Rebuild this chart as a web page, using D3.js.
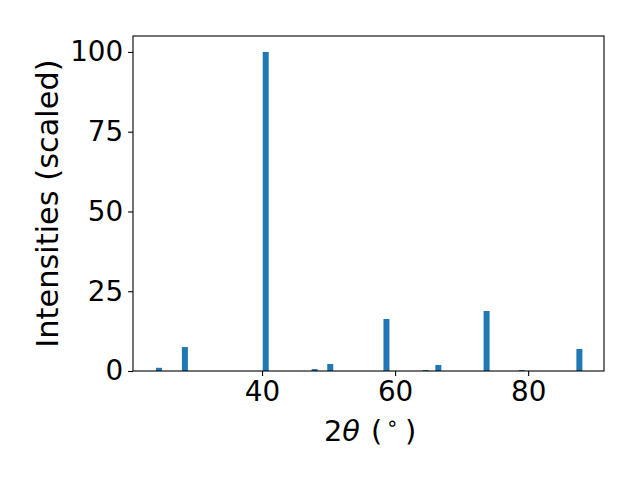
<!DOCTYPE html>
<html><head><meta charset="utf-8">
<script src="https://cdn.jsdelivr.net/npm/d3@7"></script>
<style>body{margin:0;background:#fff}svg{display:block}text{font-family:"DejaVu Sans",sans-serif}</style>
</head><body>
<svg id="c" width="640" height="480"></svg>
<script>
const twoTheta = [24.5, 28.4, 40.55, 47.9, 50.25, 58.7, 64.6, 66.5, 73.75, 79.05, 87.7];
const intensity = [1.0, 7.5, 100, 0.6, 2.2, 16.3, 0.3, 1.9, 18.8, 0.3, 6.9];
const xTicks = [40, 60, 80];
const yTicks = [0, 25, 50, 75, 100];
const barWidth = 0.9;

const svg = d3.select("#c");
const L = 133, R = 604, T = 36, B = 371;
const x = d3.scaleLinear().domain([20.6, 91.4]).range([L, R]);
const y = d3.scaleLinear().domain([0, 105]).range([B, T]);

svg.append("g").selectAll("rect").data(twoTheta).join("rect")
  .attr("x", (d) => x(d - barWidth / 2))
  .attr("width", (d) => x(d + barWidth / 2) - x(d - barWidth / 2))
  .attr("y", (d, i) => y(intensity[i]))
  .attr("height", (d, i) => y(0) - y(intensity[i]))
  .attr("fill", "#1f77b4");

const fs = 27.8;
const xa = svg.append("g").attr("transform", `translate(0,${B})`)
  .call(d3.axisBottom(x).tickValues(xTicks).tickFormat(d3.format("d")).tickSizeOuter(0).tickSize(4.9).tickPadding(4.9));
const ya = svg.append("g").attr("transform", `translate(${L},0)`)
  .call(d3.axisLeft(y).tickValues(yTicks).tickFormat(d3.format("d")).tickSizeOuter(0).tickSize(4.9).tickPadding(4.9));
[xa, ya].forEach(a => {
  a.select(".domain").remove();
  a.selectAll("line").attr("stroke", "#000").attr("stroke-width", 1.1);
  a.selectAll("text").attr("font-size", fs).attr("fill", "#000").attr("font-family", "DejaVu Sans");
});

svg.append("rect").attr("x", L).attr("y", T).attr("width", R - L).attr("height", B - T)
  .attr("fill", "none").attr("stroke", "#000").attr("stroke-width", 1.1);

const xfs = 28.8;
const xl = svg.append("text").attr("y", 441)
  .attr("font-size", xfs).attr("fill", "#000");
xl.append("tspan").attr("x", 324).text("2");
xl.append("tspan").attr("font-style", "italic").text("θ");
xl.append("tspan").attr("x", 371).text("(");
xl.append("tspan").attr("x", 386).attr("font-size", xfs * 0.7).attr("dy", -11).text("∘");
xl.append("tspan").attr("x", 405).attr("dy", 11).text(")");

svg.append("text").attr("transform", `translate(58,${(T + B) / 2}) rotate(-90)`)
  .attr("text-anchor", "middle").attr("font-size", 30.4).attr("fill", "#000")
  .text("Intensities (scaled)");
</script>
</body></html>
